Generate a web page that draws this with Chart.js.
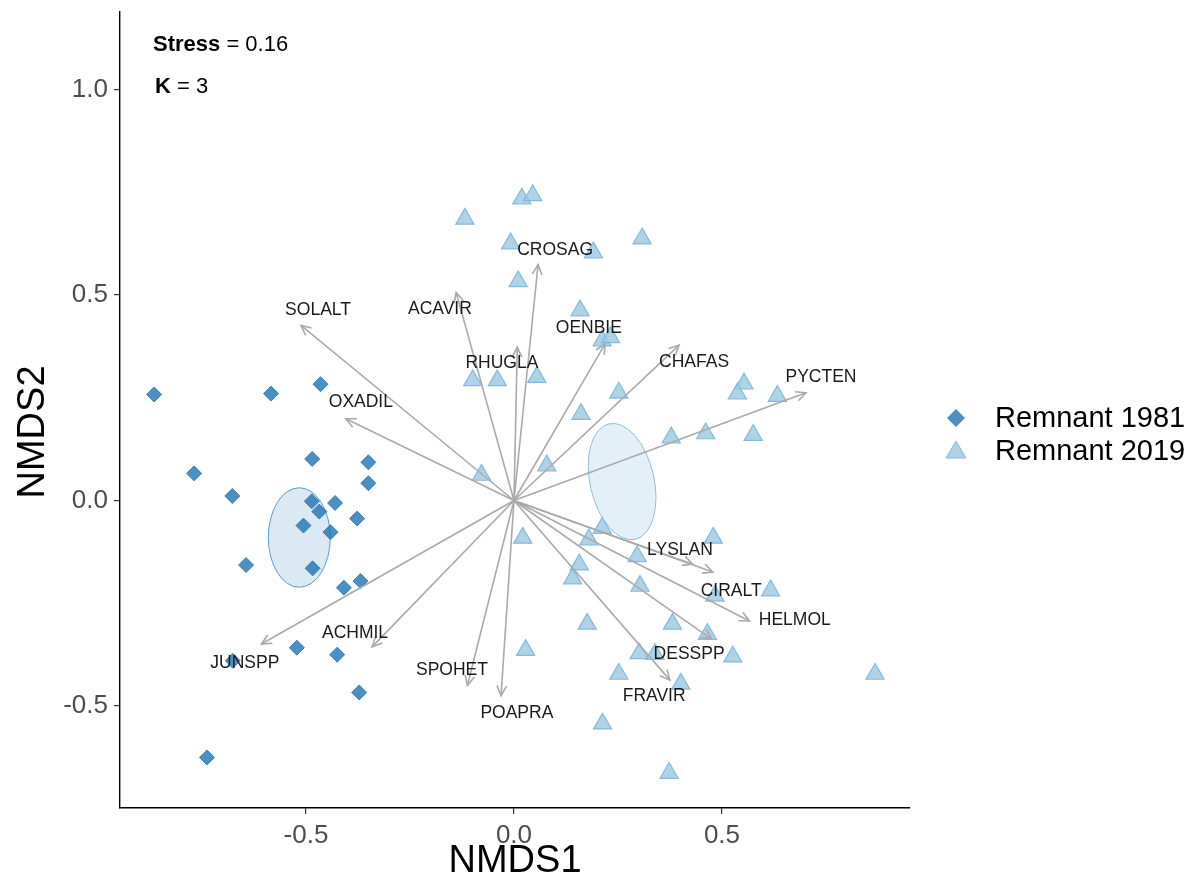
<!DOCTYPE html>
<html>
<head>
<meta charset="utf-8">
<script src="https://cdn.jsdelivr.net/npm/chart.js@4.4.1/dist/chart.umd.min.js"></script>
<style>
  html, body { margin: 0; padding: 0; background: #ffffff; }
  #wrap { width: 1197px; height: 888px; }
</style>
</head>
<body>
<div id="wrap"><canvas id="nmds_canvas" width="1197" height="888"></canvas></div>
<script>
// site scores, Remnant 1981 (diamonds)
const x1981 = [-0.865, -0.584, -0.465, -0.485, -0.350, -0.350, -0.769, -0.677, -0.486, -0.468, -0.430, -0.377,
               -0.506, -0.441, -0.644, -0.484, -0.409, -0.369, -0.522, -0.425, -0.676, -0.372, -0.738]
const y1981 = [0.258, 0.260, 0.283, 0.101, 0.093, 0.042, 0.066, 0.011, -0.002, -0.027, -0.006, -0.044,
               -0.061, -0.077, -0.157, -0.165, -0.212, -0.196, -0.358, -0.375, -0.390, -0.467, -0.625]

// site scores, Remnant 2019 (triangles)
const x2019 = [-0.118, 0.019, 0.045, 0.308, -0.008, 0.191, 0.010, 0.159, 0.212, 0.232, -0.099, -0.040, 0.055,
               0.252, 0.161, 0.378, -0.078, 0.079, 0.212, 0.180, 0.021, 0.296, 0.553, 0.537, 0.633, 0.461,
               0.575, 0.479, 0.157, 0.141, 0.303, 0.176, 0.381, 0.028, 0.301, 0.339, 0.252, 0.401, 0.213,
               0.373, 0.617, 0.483, 0.465, 0.526, 0.868]
const y2019 = [0.685, 0.734, 0.742, 0.637, 0.625, 0.603, 0.533, 0.462, 0.389, 0.397, 0.292, 0.292, 0.300,
               0.262, 0.210, 0.153, 0.062, 0.085, -0.067, -0.095, -0.091, -0.136, 0.284, 0.260, 0.254, 0.163,
               0.159, -0.091, -0.156, -0.190, -0.208, -0.300, -0.300, -0.364, -0.372, -0.374, -0.422, -0.446,
               -0.543, -0.663, -0.219, -0.232, -0.325, -0.380, -0.422]

// species vectors (arrow tips) and where their names sit
const species = ["SOLALT", "ACAVIR", "CROSAG", "OENBIE", "RHUGLA", "CHAFAS", "PYCTEN", "OXADIL", "JUNSPP",
                 "ACHMIL", "SPOHET", "POAPRA", "FRAVIR", "DESSPP", "HELMOL", "CIRALT", "LYSLAN"]
const vecX = [-0.512, -0.139, 0.058, 0.219, 0.008, 0.397, 0.702, -0.404, -0.607, -0.341, -0.112, -0.031,
              0.375, 0.475, 0.566, 0.478, 0.430]
const vecY = [0.426, 0.506, 0.574, 0.381, 0.373, 0.378, 0.262, 0.199, -0.349, -0.356, -0.450, -0.475,
              -0.437, -0.337, -0.293, -0.174, -0.155]
const labX = [-0.471, -0.178, 0.099, 0.180, -0.029, 0.433, 0.738, -0.368, -0.647, -0.382, -0.149, 0.007,
              0.337, 0.421, 0.675, 0.522, 0.399]
const labY = [0.462, 0.465, 0.610, 0.419, 0.334, 0.337, 0.300, 0.240, -0.395, -0.322, -0.412, -0.518,
              -0.477, -0.375, -0.290, -0.220, -0.121]

// group ellipses (centre, semi axes in data units, tilt in degrees)
const ellCx = [-0.516, 0.260]
const ellCy = [-0.090, 0.046]
const ellRx = [0.0745, 0.077]
const ellRy = [0.121, 0.144]
const ellTilt = [0, -12.8]

const xTicks = [-0.5, 0.0, 0.5]
const yTicks = [-0.5, 0.0, 0.5, 1.0]
const groups = ["Remnant 1981", "Remnant 2019"]

const col1981 = "rgba(31,116,180,0.8)"
const col2019 = "rgba(160,203,228,0.85)"
const edge2019 = "rgba(125,182,218,0.9)"
const ellFill = ["rgba(31,120,180,0.16)", "rgba(166,206,227,0.3)"]
const ellEdge = ["#5b9bd0", "#8fbfdf"]
const arrowCol = "#aaaaaa"
const fontFam = "'Liberation Sans', Arial, sans-serif"

const toPts = (xs, ys) => xs.map((v, i) => ({x: v, y: ys[i]}))

const drawArrowHead = (ctx, x0, y0, x1, y1) => {
    let ang = Math.atan2(y1 - y0, x1 - x0)
    let len = 11
    let spread = Math.PI / 7
    ctx.beginPath()
    ctx.moveTo(x1 - len * Math.cos(ang - spread), y1 - len * Math.sin(ang - spread))
    ctx.lineTo(x1, y1)
    ctx.lineTo(x1 - len * Math.cos(ang + spread), y1 - len * Math.sin(ang + spread))
    ctx.stroke()
}

// scales should not ask for extra room for half tick labels
const noPad = (scale) => {
    scale.paddingTop = 0
    scale.paddingBottom = 0
    scale.paddingLeft = 0
    scale.paddingRight = 0
}

const ordiPlugin = {
    id: "ordi",
    beforeDatasetsDraw(chart) {
        const ctx = chart.ctx
        const xs = chart.scales.x, ys = chart.scales.y
        for (let i = 0; i < ellCx.length; i++) {
            let cx = xs.getPixelForValue(ellCx[i])
            let cy = ys.getPixelForValue(ellCy[i])
            let rx = Math.abs(xs.getPixelForValue(ellCx[i] + ellRx[i]) - cx)
            let ry = Math.abs(ys.getPixelForValue(ellCy[i] + ellRy[i]) - cy)
            ctx.save()
            ctx.beginPath()
            ctx.ellipse(cx, cy, rx, ry, ellTilt[i] * Math.PI / 180, 0, 2 * Math.PI)
            ctx.fillStyle = ellFill[i]
            ctx.fill()
            ctx.lineWidth = 1
            ctx.strokeStyle = ellEdge[i]
            ctx.stroke()
            ctx.restore()
        }
    },
    afterDatasetsDraw(chart) {
        const ctx = chart.ctx
        const xs = chart.scales.x, ys = chart.scales.y
        let ox = xs.getPixelForValue(0), oy = ys.getPixelForValue(0)
        ctx.save()
        ctx.strokeStyle = arrowCol
        ctx.lineWidth = 1.6
        for (let i = 0; i < species.length; i++) {
            drawArrowHead(ctx, ox, oy, xs.getPixelForValue(vecX[i]), ys.getPixelForValue(vecY[i]))
        }
        ctx.fillStyle = "#1a1a1a"
        ctx.font = "17.5px " + fontFam
        ctx.textAlign = "center"
        ctx.textBaseline = "middle"
        for (let i = 0; i < species.length; i++) {
            ctx.fillText(species[i], xs.getPixelForValue(labX[i]), ys.getPixelForValue(labY[i]))
        }
        ctx.restore()
    },
    afterDraw(chart) {
        const ctx = chart.ctx
        const area = chart.chartArea
        ctx.save()
        ctx.fillStyle = "#000000"
        ctx.textBaseline = "middle"
        ctx.textAlign = "left"
        // stress / k annotation
        ctx.font = "bold 22px " + fontFam
        ctx.fillText("Stress", 153, 45)
        let w = ctx.measureText("Stress").width
        ctx.font = "22px " + fontFam
        ctx.fillText(" = 0.16", 153 + w, 45)
        ctx.font = "bold 22px " + fontFam
        ctx.fillText("K", 155, 87)
        w = ctx.measureText("K").width
        ctx.font = "22px " + fontFam
        ctx.fillText(" = 3", 155 + w, 87)

        // axis titles
        ctx.font = "38px " + fontFam
        ctx.textAlign = "center"
        ctx.fillText("NMDS1", (area.left + area.right) / 2, 862)
        ctx.save()
        ctx.translate(34, 432)
        ctx.rotate(-Math.PI / 2)
        ctx.fillText("NMDS2", 0, 0)
        ctx.restore()

        // legend
        ctx.textAlign = "left"
        ctx.font = "29px " + fontFam
        ctx.fillText(groups[0], 995, 419)
        ctx.fillText(groups[1], 995, 452)
        ctx.fillStyle = col1981
        ctx.beginPath()
        ctx.moveTo(956, 409); ctx.lineTo(965, 418); ctx.lineTo(956, 427); ctx.lineTo(947, 418)
        ctx.closePath()
        ctx.fill()
        ctx.fillStyle = col2019
        ctx.strokeStyle = edge2019
        ctx.lineWidth = 1
        ctx.beginPath()
        ctx.moveTo(956, 441); ctx.lineTo(966, 458); ctx.lineTo(946, 458)
        ctx.closePath()
        ctx.fill()
        ctx.stroke()
        ctx.restore()
    }
}

const arrowSets = species.map((s, i) => ({
    label: s,
    data: [{x: 0, y: 0}, {x: vecX[i], y: vecY[i]}],
    showLine: true,
    borderColor: arrowCol,
    borderWidth: 1.6,
    pointRadius: 0,
    pointHoverRadius: 0,
    order: 1
}))

const config = {
    type: "scatter",
    data: {
        datasets: [
            {
                label: groups[0],
                data: toPts(x1981, y1981),
                pointStyle: "rectRot",
                pointRadius: 7.5,
                backgroundColor: col1981,
                borderColor: col1981,
                borderWidth: 1,
                order: 3
            },
            {
                label: groups[1],
                data: toPts(x2019, y2019),
                pointStyle: "triangle",
                pointRadius: 10.5,
                backgroundColor: col2019,
                borderColor: edge2019,
                borderWidth: 1.2,
                order: 2
            },
            ...arrowSets
        ]
    },
    options: {
        responsive: false,
        animation: false,
        events: [],
        layout: {padding: {top: 8, right: 287, left: 0, bottom: 0}},
        plugins: {
            legend: {display: false},
            tooltip: {enabled: false}
        },
        scales: {
            x: {
                type: "linear",
                min: -0.947,
                max: 0.952,
                afterFit: (scale) => { scale.height = 80; noPad(scale) },
                afterBuildTicks: (scale) => { scale.ticks = xTicks.map(v => ({value: v})) },
                border: {display: true, color: "#000000", width: 1.4},
                grid: {display: true, drawOnChartArea: false, drawTicks: true, tickLength: 6, color: "#333333", lineWidth: 1.2},
                ticks: {
                    padding: 6,
                    color: "#4d4d4d",
                    font: {family: fontFam, size: 26},
                    callback: (v) => v.toFixed(1)
                }
            },
            y: {
                type: "linear",
                min: -0.748,
                max: 1.189,
                afterFit: (scale) => { scale.width = 120; noPad(scale) },
                afterBuildTicks: (scale) => { scale.ticks = yTicks.map(v => ({value: v})) },
                border: {display: true, color: "#000000", width: 1.4},
                grid: {display: true, drawOnChartArea: false, drawTicks: true, tickLength: 6, color: "#333333", lineWidth: 1.2},
                ticks: {
                    padding: 6,
                    color: "#4d4d4d",
                    font: {family: fontFam, size: 26},
                    callback: (v) => v.toFixed(1)
                }
            }
        }
    },
    plugins: [ordiPlugin]
}

new Chart(document.getElementById("nmds_canvas"), config)
</script>
</body>
</html>
